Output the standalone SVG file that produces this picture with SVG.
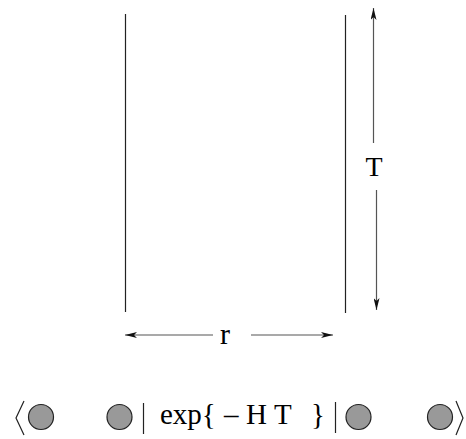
<svg xmlns="http://www.w3.org/2000/svg" width="466" height="439" viewBox="0 0 466 439">
<style>
.wall{stroke:#222;stroke-width:1.2;fill:none}
.dim{stroke:#555;stroke-width:1.2;fill:none}
.t{font-family:"Liberation Serif","Times New Roman",serif;font-size:29px;fill:#000}
.dot{fill:#999;stroke:#222;stroke-width:1.2}
.br{stroke:#222;stroke-width:1.2;fill:none}
</style>
<defs>
<marker id="ah" viewBox="0 0 12 6" refX="12" refY="3" markerWidth="12" markerHeight="6" markerUnits="userSpaceOnUse" orient="auto">
<path d="M0,0 L12,3 L0,6 L3,3 Z" fill="#111"/>
</marker>
</defs>
<g id="walls">
<line class="wall" x1="125.5" y1="14" x2="125.5" y2="312"/>
<line class="wall" x1="345.5" y1="15" x2="345.5" y2="313"/>
</g>
<g id="connectors">
<line class="dim" x1="373.5" y1="143" x2="373.5" y2="8" marker-end="url(#ah)"/>
<line class="dim" x1="376.5" y1="190" x2="376.5" y2="310" marker-end="url(#ah)"/>
<line class="dim" x1="213" y1="335" x2="125" y2="335" marker-end="url(#ah)"/>
<line class="dim" x1="251" y1="335" x2="333" y2="335" marker-end="url(#ah)"/>
</g>
<g id="labelT"><text class="t" x="374" y="176" text-anchor="middle" style="font-size:28px">T</text></g>
<g id="labelR"><text class="t" x="225" y="344" text-anchor="middle" style="font-size:30px">r</text></g>
<g id="formula">
<polyline class="br" points="24,401 16,418 24,435"/>
<circle id="c1" class="dot" cx="41" cy="417" r="12.5"/>
<circle id="c2" class="dot" cx="119.5" cy="417" r="12.5"/>
<line class="br" x1="143.5" y1="403" x2="143.5" y2="434"/>
<text class="t" x="160" y="424">exp{</text>
<text class="t" x="224" y="424">–</text>
<text class="t" x="246" y="424">H</text>
<text class="t" x="274" y="424">T</text>
<text class="t" x="311" y="424">}</text>
<line class="br" x1="335.5" y1="402" x2="335.5" y2="433"/>
<circle id="c3" class="dot" cx="358.5" cy="417" r="12.5"/>
<circle id="c4" class="dot" cx="440" cy="417" r="12.5"/>
<polyline class="br" points="456,401 463,418 456,435"/>
</g>
</svg>
